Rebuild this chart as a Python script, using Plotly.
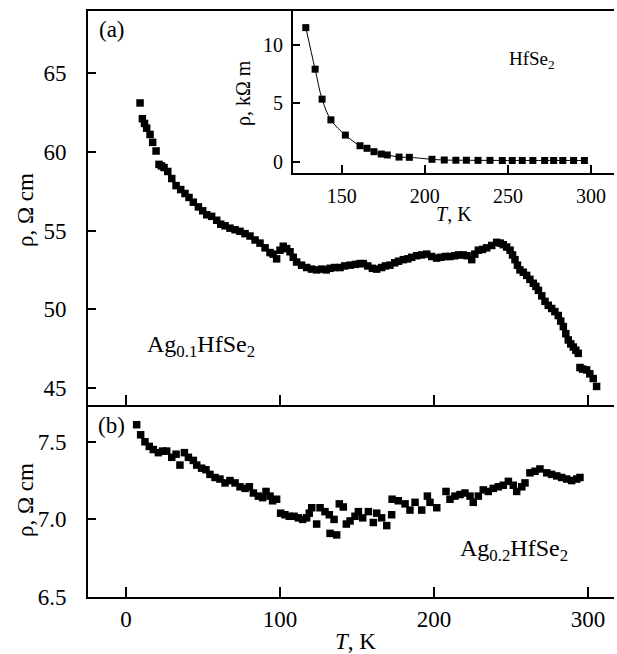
import plotly.graph_objects as go

# ---------------- data ----------------
T_a = [9.1, 10.6, 12.0, 13.4, 15.6, 17.3, 19.5, 21.4, 23.0, 24.7, 27.1, 29.7, 32.5, 35.5, 38.3,
       40.9, 43.7, 47.0, 49.8, 52.4, 55.6, 58.9, 61.5, 64.3, 67.5, 70.8, 74.0, 77.3, 80.5, 83.8,
       87.0, 90.3, 93.5, 95.5, 97.8, 100.0, 102.1, 104.3, 106.5, 108.6, 110.8, 114.0, 117.3, 120.5,
       123.8, 127.0, 130.0, 132.5, 135.5, 139.0, 142.0, 145.5, 149.0, 152.0, 154.1, 157.0, 160.0,
       162.8, 166.0, 168.5, 171.4, 174.5, 177.0, 180.1, 183.0, 185.5, 188.8, 192.0, 195.3, 198.5,
       201.7, 204.5, 207.5, 210.4, 213.5, 216.0, 219.0, 221.5, 224.5, 226.5, 228.8, 231.5, 234.2,
       237.5, 240.7, 243.0, 245.0, 247.2, 249.4, 251.0, 252.6, 254.2, 255.8, 258.0, 260.2, 262.3,
       264.5, 266.2, 267.8, 270.0, 272.1, 274.2, 276.4, 278.5, 280.7, 282.3, 284.0, 285.6, 287.2,
       288.8, 290.5, 292.1, 293.7, 294.8, 296.5, 299.1, 301.2, 303.4, 305.6]
rho_a = [63.1, 62.1, 61.8, 61.5, 61.1, 60.6, 60.05, 59.2, 59.1, 59.0, 58.75, 58.3, 57.85, 57.6, 57.35,
         57.1, 56.8, 56.5, 56.25, 56.0, 55.9, 55.65, 55.4, 55.3, 55.15, 55.05, 54.95, 54.8, 54.65, 54.4,
         54.2, 53.9, 53.6, 53.5, 53.2, 53.75, 54.0, 53.85, 53.65, 53.3, 53.0, 52.8, 52.65, 52.55,
         52.5, 52.55, 52.5, 52.6, 52.65, 52.65, 52.75, 52.8, 52.85, 52.9, 52.9, 52.75, 52.6,
         52.55, 52.65, 52.75, 52.8, 52.95, 53.05, 53.15, 53.2, 53.3, 53.4, 53.45, 53.5, 53.35,
         53.25, 53.3, 53.35, 53.35, 53.4, 53.45, 53.45, 53.4, 53.15, 53.5, 53.75, 53.8, 53.9,
         54.05, 54.25, 54.2, 54.1, 53.95, 53.75, 53.45, 53.15, 52.8, 52.5, 52.35, 52.15, 51.9,
         51.65, 51.45, 51.2, 50.85, 50.5, 50.25, 50.05, 49.85, 49.6, 49.25, 48.9, 48.45, 48.05,
         47.8, 47.6, 47.4, 47.2, 46.3, 46.2, 46.15, 45.9, 45.6, 45.1]

T_b = [6.9, 9.5, 12.3, 15.1, 17.7, 21.0, 23.8, 26.4, 29.7, 32.5, 35.0, 37.9, 40.5, 43.7, 45.9, 49.1,
       51.9, 54.5, 57.8, 61.0, 64.3, 67.5, 70.8, 74.0, 77.3, 80.1, 82.7, 85.9, 88.7, 90.9, 93.5, 95.2,
       97.8, 100.4, 103.2, 106.0, 109.1, 111.9, 114.7, 117.3, 119.0, 120.6, 123.8, 126.0, 129.2,
       132.0, 132.5, 135.1, 136.8, 138.5, 141.1, 143.1, 145.5, 148.7, 150.9, 153.7, 157.4, 160.6,
       162.8, 166.0, 169.3, 172.5, 172.8, 176.8, 181.2, 184.4, 187.7, 192.0, 195.7, 197.4, 201.8,
       207.8, 210.4, 213.6, 216.9, 220.1, 223.4, 225.5, 228.8, 232.0, 235.3, 238.5, 241.8, 245.0,
       248.3, 251.5, 253.7, 257.0, 259.1, 262.3, 265.6, 268.8, 273.2, 276.4, 279.7, 282.9, 286.2,
       289.4, 292.7, 294.8]
rho_b = [7.61, 7.545, 7.50, 7.47, 7.45, 7.43, 7.44, 7.44, 7.40, 7.42, 7.35, 7.43, 7.40, 7.38, 7.35, 7.33,
         7.32, 7.29, 7.27, 7.26, 7.235, 7.25, 7.235, 7.21, 7.20, 7.21, 7.17, 7.15, 7.14, 7.18, 7.15, 7.12,
         7.13, 7.04, 7.03, 7.02, 7.02, 7.01, 7.00, 7.01, 7.04, 7.075, 6.97, 7.075, 7.05,
         7.03, 6.91, 7.00, 6.90, 7.10, 7.08, 6.97, 6.99, 7.02, 7.05, 7.01, 7.05, 6.98,
         7.04, 7.01, 6.96, 7.03, 7.13, 7.12, 7.10, 7.06, 7.11, 7.06, 7.15, 7.11, 7.075,
         7.18, 7.13, 7.15, 7.16, 7.17, 7.15, 7.11, 7.15, 7.19, 7.18, 7.20, 7.21, 7.22,
         7.245, 7.22, 7.18, 7.21, 7.235, 7.30, 7.31, 7.325, 7.30, 7.29, 7.28, 7.27, 7.26,
         7.25, 7.26, 7.27]

T_in = [128.4, 134.0, 138.2, 143.5, 152.2, 161.0, 165.2, 169.4, 173.8, 177.4, 184.5, 190.7,
        204.3, 211.7, 218.7, 225.0, 232.0, 239.2, 246.6, 252.6, 258.6, 265.0, 272.1, 277.5,
        283.0, 289.5, 296.0]
rho_in = [11.48, 7.93, 5.37, 3.6, 2.30, 1.39, 1.17, 0.88, 0.68, 0.6, 0.42, 0.4,
          0.23, 0.17, 0.15, 0.15, 0.14, 0.14, 0.13, 0.13, 0.13, 0.13, 0.13, 0.13,
          0.13, 0.13, 0.13]

x_ticks_main = [0, 100, 200, 300]
y_ticks_a = [45, 50, 55, 60, 65]
y_ticks_b = [6.5, 7.0, 7.5]
y_ticklabels_b = ["6.5", "7.0", "7.5"]
x_ticks_in = [150, 200, 250, 300]
y_ticks_in = [0, 5, 10]

# ---------------- layout helpers ----------------
W, H = 617, 654
def px(x):
    return x / W
def py(y):
    return 1 - y / H

FONT = "Liberation Serif"
BLACK = "black"

fig = go.Figure()
mk = dict(symbol="square", size=7.5, color=BLACK)
fig.add_trace(go.Scatter(x=T_a, y=rho_a, mode="markers", marker=mk, xaxis="x", yaxis="y",
                         showlegend=False))
fig.add_trace(go.Scatter(x=T_b, y=rho_b, mode="markers", marker=mk, xaxis="x2", yaxis="y2",
                         showlegend=False))
fig.add_trace(go.Scatter(x=T_in, y=rho_in, mode="lines+markers", marker=dict(mk, size=7),
                         line=dict(color=BLACK, width=1, shape="spline"),
                         xaxis="x3", yaxis="y3", showlegend=False))

axis_common = dict(showline=True, linecolor=BLACK, linewidth=2, ticks="inside",
                   tickcolor=BLACK, tickwidth=2, showgrid=False, zeroline=False,
                   automargin=False,
                   tickfont=dict(family=FONT, size=23, color=BLACK))

xr = [-24.7, 316.9]
fig.update_layout(
    width=W, height=H, autosize=False,
    margin=dict(l=0, r=0, t=0, b=0, pad=0),
    paper_bgcolor="white", plot_bgcolor="white",
    font=dict(family=FONT, color=BLACK),
    xaxis=dict(axis_common, domain=[px(88), px(614)], range=xr, anchor="y",
               tickvals=x_ticks_main, showticklabels=False, ticklen=10, mirror=True),
    yaxis=dict(axis_common, domain=[py(405), py(11)], range=[43.92, 68.94], anchor="x",
               tickvals=y_ticks_a, ticklen=8, ticklabelstandoff=15),
    xaxis2=dict(axis_common, domain=[px(88), px(614)], range=xr, anchor="y2",
                tickvals=x_ticks_main, ticklen=10, ticklabelstandoff=0),
    yaxis2=dict(axis_common, domain=[py(597), py(405)], range=[6.5, 7.737], anchor="x2",
                tickvals=y_ticks_b, ticktext=y_ticklabels_b, ticklen=8, ticklabelstandoff=15),
    xaxis3=dict(axis_common, domain=[px(293), px(614)], range=[120.7, 313.8], anchor="y3",
                tickvals=x_ticks_in, ticklen=8, ticklabelstandoff=4,
                tickfont=dict(family=FONT, size=20, color=BLACK)),
    yaxis3=dict(axis_common, domain=[py(173), py(11)], range=[-0.94, 12.9], anchor="x3",
                tickvals=y_ticks_in, ticklen=7, ticklabelstandoff=4,
                tickfont=dict(family=FONT, size=20, color=BLACK)),
)

def ann(text, x, y, size, angle=0, xanchor="center", yanchor="middle"):
    fig.add_annotation(text=text, x=px(x), y=py(y), xref="paper", yref="paper",
                       showarrow=False, textangle=angle, xanchor=xanchor, yanchor=yanchor,
                       font=dict(family=FONT, size=size, color=BLACK))

ann("ρ, Ω cm", 25, 210, 23, angle=-90)
ann("ρ, Ω cm", 25, 500, 23, angle=-90)
ann("<i>T</i>, K", 355, 641, 23)
ann("(a)", 97, 30, 23, xanchor="left")
ann("(b)", 96, 425, 23, xanchor="left")
ann("Ag<sub>0.1</sub>HfSe<sub>2</sub>", 145, 346, 24, xanchor="left")
ann("Ag<sub>0.2</sub>HfSe<sub>2</sub>", 458, 550, 24, xanchor="left")
ann("HfSe<sub>2</sub>", 507, 60, 19, xanchor="left")
ann("ρ, kΩ m", 243, 93, 20, angle=-90)
ann("<i>T</i>, K", 454, 214, 20)

fig.write_html(
    "out.html",
    config={"responsive": False, "displayModeBar": False},
    post_script="document.body.style.margin='0';document.body.style.overflow='hidden';",
)
